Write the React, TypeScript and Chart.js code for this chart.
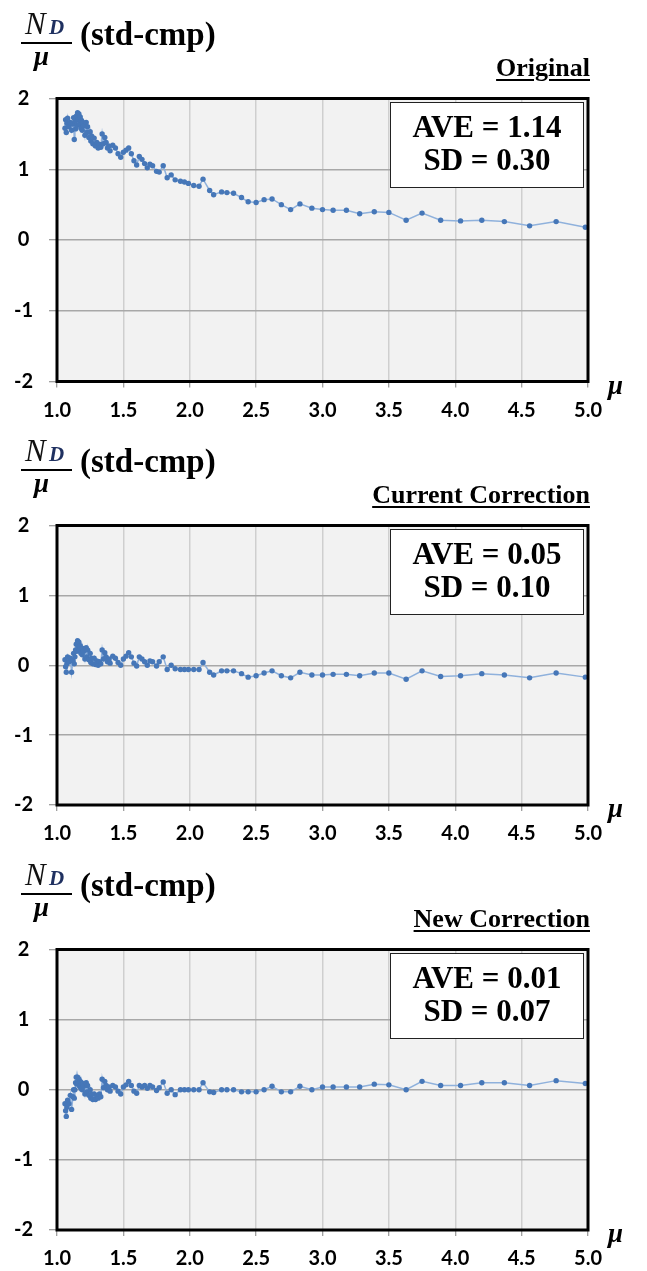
import React, { useEffect, useRef } from "react";
import { Chart, registerables } from "chart.js";

Chart.register(...registerables);

// μ values (x axis)
const mu = [
  1.06, 1.065, 1.07, 1.075, 1.08, 1.09, 1.1, 1.11, 1.12, 1.125,
  1.13, 1.135, 1.14, 1.145, 1.15, 1.155, 1.16, 1.165, 1.17, 1.175,
  1.18, 1.185, 1.19, 1.195, 1.2, 1.21, 1.22, 1.225, 1.23, 1.24,
  1.25, 1.255, 1.26, 1.27, 1.28, 1.29, 1.3, 1.31, 1.32, 1.33,
  1.34, 1.35, 1.36, 1.37, 1.38, 1.39, 1.4, 1.42, 1.44, 1.46,
  1.48, 1.5, 1.52, 1.54, 1.56, 1.58, 1.6, 1.62, 1.64, 1.66,
  1.68, 1.7, 1.72, 1.75, 1.77, 1.8, 1.83, 1.86, 1.89, 1.93,
  1.96, 1.99, 2.03, 2.07,
  2.1, 2.15, 2.18, 2.24, 2.28, 2.33, 2.39, 2.44, 2.5, 2.56,
  2.62, 2.69, 2.76, 2.83, 2.92, 3.0, 3.08, 3.18, 3.28, 3.39,
  3.5, 3.63, 3.75, 3.89, 4.04, 4.2, 4.37, 4.56, 4.76, 4.98,
];

// N_D / μ (std-cmp), original
const ndOriginal = [
  1.58, 1.7, 1.52, 1.65, 1.72, 1.6, 1.66, 1.55, 1.64, 1.73,
  1.42, 1.68, 1.57, 1.75, 1.62, 1.8, 1.7, 1.78, 1.64, 1.74,
  1.58, 1.69, 1.55, 1.66, 1.61, 1.48, 1.66, 1.52, 1.6, 1.45,
  1.53, 1.4, 1.47, 1.36, 1.44, 1.33, 1.38, 1.3, 1.35, 1.31,
  1.5, 1.36, 1.45, 1.38, 1.3, 1.33, 1.26, 1.34, 1.3, 1.22,
  1.17, 1.24, 1.27, 1.3, 1.22, 1.12, 1.06, 1.18, 1.14, 1.08,
  1.02, 1.07, 1.05, 0.97, 0.96, 1.05, 0.88, 0.92, 0.85, 0.83,
  0.82, 0.8, 0.77, 0.76,
  0.86, 0.7, 0.64, 0.68, 0.67, 0.66, 0.6, 0.54, 0.53, 0.57,
  0.58, 0.5, 0.43, 0.51, 0.45, 0.43, 0.42, 0.42, 0.37, 0.4,
  0.39, 0.28, 0.38, 0.28, 0.27, 0.28, 0.26, 0.2, 0.26, 0.18,
];

// current correction
const ndCurrent = [
  0.08, -0.02, -0.1, 0.02, 0.12, 0.05, 0.1, -0.1, 0.06, 0.17,
  0.02, 0.12, 0.22, 0.3, 0.2, 0.35, 0.26, 0.33, 0.22, 0.28,
  0.17, 0.24, 0.15, 0.24, 0.2, 0.09, 0.25, 0.12, 0.22, 0.08,
  0.17, 0.04, 0.1, 0.02, 0.1, 0.01, 0.06, 0.0, 0.05, 0.02,
  0.22, 0.09, 0.18, 0.12, 0.05, 0.09, 0.03, 0.13, 0.1, 0.04,
  0.0, 0.09, 0.13, 0.18, 0.12, 0.03, -0.01, 0.12, 0.09, 0.05,
  0.0, 0.06, 0.05, -0.01, 0.05, 0.12, -0.06, 0.0, -0.05, -0.06,
  -0.06, -0.06, -0.06, -0.06,
  0.04, -0.1, -0.14, -0.08, -0.08, -0.08, -0.12, -0.17, -0.15, -0.11,
  -0.08, -0.15, -0.18, -0.1, -0.14, -0.14, -0.13, -0.13, -0.15, -0.11,
  -0.11, -0.2, -0.08, -0.16, -0.15, -0.12, -0.14, -0.18, -0.11, -0.17,
];

// new correction
const ndNew = [
  -0.2, -0.3, -0.38, -0.25, -0.15, -0.2, -0.08, -0.28, -0.1, 0.0,
  -0.12, 0.0, 0.1, 0.18, 0.08, 0.18, 0.1, 0.15, 0.05, 0.12,
  0.02, 0.1, 0.0, 0.08, 0.05, -0.06, 0.1, -0.03, 0.06, -0.08,
  0.0, -0.12, -0.06, -0.14, -0.06, -0.14, -0.08, -0.12, -0.06, -0.1,
  0.15, 0.03, 0.12, 0.06, 0.0, 0.04, -0.02, 0.06, 0.04, -0.02,
  -0.06, 0.04, 0.07, 0.12, 0.06, -0.02, -0.05, 0.06, 0.04, 0.06,
  0.02, 0.06, 0.04, -0.01, 0.03, 0.11, -0.05, 0.0, -0.07, 0.0,
  0.0, 0.0, 0.0, 0.0,
  0.1, -0.03, -0.04, 0.0, 0.0, 0.0, -0.03, -0.03, -0.03, 0.0,
  0.05, -0.03, -0.03, 0.05, 0.0, 0.04, 0.04, 0.04, 0.04, 0.08,
  0.07, 0.0, 0.12, 0.06, 0.06, 0.1, 0.1, 0.06, 0.13, 0.09,
];

const panelTitles = ["Original", "Current Correction", "New Correction"];
const aveValues = ["1.14", "0.05", "0.01"];
const sdValues = ["0.30", "0.10", "0.07"];
const xTickValues = [1.0, 1.5, 2.0, 2.5, 3.0, 3.5, 4.0, 4.5, 5.0];
const yTickValues = [-2, -1, 0, 1, 2];
const seriesList = [ndOriginal, ndCurrent, ndNew];

const SERIF = '"Liberation Serif", "Times New Roman", serif';
const SANS = 'Lato, "Open Sans", sans-serif';

// page layout of each panel: header offset, plot top, plot bottom
const PANEL_OFFSETS = [0, 427, 851];
const PLOT_TOPS = [98.5, 525.5, 949.5];
const PLOT_BOTTOMS = [381.5, 805, 1230];
const CANVAS_W = 647;
const CANVAS_H = 424;

function Panel({ values, oy, plotTop, plotBottom, title, ave, sd }: any) {
  const ref = useRef<HTMLCanvasElement>(null);
  useEffect(() => {
    if (!ref.current) return;
    const framePlugin = {
      id: "frameBg",
      beforeDraw(chart: any) {
        const { ctx, chartArea: a } = chart;
        ctx.save();
        ctx.fillStyle = "#f2f2f2";
        ctx.fillRect(a.left, a.top, a.right - a.left, a.bottom - a.top);
        ctx.restore();
      },
      afterDraw(chart: any) {
        const { ctx, chartArea: a } = chart;
        ctx.save();
        ctx.strokeStyle = "#000";
        ctx.lineWidth = 3;
        ctx.strokeRect(a.left, a.top, a.right - a.left, a.bottom - a.top);
        ctx.restore();
      },
    };
    const chart = new Chart(ref.current, {
      type: "scatter",
      data: {
        datasets: [
          {
            data: mu.map((x, i) => ({ x, y: values[i] })),
            showLine: true,
            borderColor: "#8fb1dc",
            borderWidth: 1.5,
            pointRadius: 2.7,
            pointBorderWidth: 0,
            pointBackgroundColor: "#4677b8",
            pointBorderColor: "#4677b8",
            tension: 0,
          },
        ],
      },
      options: {
        responsive: false,
        animation: false,
        devicePixelRatio: 1,
        layout: { padding: { top: plotTop - oy, right: 59, left: 0, bottom: 0 } },
        plugins: { legend: { display: false }, tooltip: { enabled: false } },
        scales: {
          x: {
            type: "linear",
            min: 1,
            max: 5,
            afterFit: (s: any) => {
              s.height = oy + CANVAS_H - plotBottom;
            },
            afterBuildTicks: (s: any) => {
              s.ticks = xTickValues.map((v) => ({ value: v }));
            },
            ticks: {
              callback: (v: any) => Number(v).toFixed(1),
              font: { family: SANS, size: 20, weight: "bold" },
              color: "#000",
              padding: 11,
              maxRotation: 0,
              autoSkip: false,
            },
            grid: {
              color: "#cfcfcf",
              lineWidth: 1.5,
              tickLength: 6,
              tickColor: "#808080",
              tickWidth: 1,
            },
            border: { display: false },
          },
          y: {
            min: -2,
            max: 2,
            afterFit: (s: any) => {
              s.width = 57;
            },
            afterBuildTicks: (s: any) => {
              s.ticks = yTickValues.map((v) => ({ value: v }));
            },
            ticks: {
              callback: (v: any) => String(v),
              font: { family: SANS, size: 20, weight: "bold" },
              color: "#000",
              padding: 16,
              crossAlign: "center",
            },
            grid: {
              color: "#a8a8a8",
              lineWidth: 1.5,
              tickLength: 8,
              tickColor: "#808080",
              tickWidth: 1,
            },
            border: { display: false },
          },
        },
      },
      plugins: [framePlugin],
    } as any);
    return () => chart.destroy();
  }, [values, oy, plotTop, plotBottom]);

  const abs = (extra: any) => ({ position: "absolute" as const, whiteSpace: "nowrap" as const, ...extra });

  return (
    <>
      <canvas
        ref={ref}
        width={CANVAS_W}
        height={CANVAS_H}
        style={{ position: "absolute", left: 0, top: oy, width: CANVAS_W, height: CANVAS_H }}
      />
      {/* fraction N_D / μ */}
      <div style={abs({ left: 25, top: oy + 8, font: `italic 31px ${SERIF}`, lineHeight: "31px", color: "#111" })}>N</div>
      <div style={abs({ left: 49, top: oy + 17, font: `italic bold 21px ${SERIF}`, lineHeight: "21px", color: "#1f3060" })}>D</div>
      <div style={abs({ left: 21, top: oy + 42, width: 51, height: 2, background: "#000" })} />
      <div style={abs({ left: 34, top: oy + 43, font: `italic bold 27px ${SERIF}`, lineHeight: "27px", color: "#000" })}>μ</div>
      <div style={abs({ left: 80, top: oy + 18, font: `bold 33px ${SERIF}`, lineHeight: "33px", color: "#000" })}>(std-cmp)</div>
      {/* panel title */}
      <div
        style={abs({
          right: CANVAS_W - 590,
          top: oy + 55,
          font: `bold 26px ${SERIF}`,
          lineHeight: "26px",
          textDecoration: "underline",
          textDecorationThickness: "2px",
          textUnderlineOffset: "3px",
          color: "#000",
        })}
      >
        {title}
      </div>
      {/* axis symbol */}
      <div style={abs({ left: 608, top: plotBottom - 10, font: `italic bold 27px ${SERIF}`, lineHeight: "27px", color: "#000" })}>μ</div>
      {/* statistics box */}
      <div
        style={abs({
          left: 390,
          top: oy + 102,
          width: 194,
          height: 86,
          boxSizing: "border-box",
          border: "1px solid #222",
          background: "#fff",
        })}
      >
        <div style={abs({ left: 0, width: "100%", top: 8, textAlign: "center", font: `bold 31px ${SERIF}`, lineHeight: "31px" })}>
          AVE = {ave}
        </div>
        <div style={abs({ left: 0, width: "100%", top: 41, textAlign: "center", font: `bold 31px ${SERIF}`, lineHeight: "31px" })}>
          SD = {sd}
        </div>
      </div>
    </>
  );
}

export default function App() {
  return (
    <div style={{ position: "absolute", left: 0, top: 0, width: CANVAS_W, height: 1271, background: "#fff", overflow: "hidden" }}>
      {seriesList.map((vals, i) => (
        <Panel
          key={i}
          values={vals}
          oy={PANEL_OFFSETS[i]}
          plotTop={PLOT_TOPS[i]}
          plotBottom={PLOT_BOTTOMS[i]}
          title={panelTitles[i]}
          ave={aveValues[i]}
          sd={sdValues[i]}
        />
      ))}
    </div>
  );
}
